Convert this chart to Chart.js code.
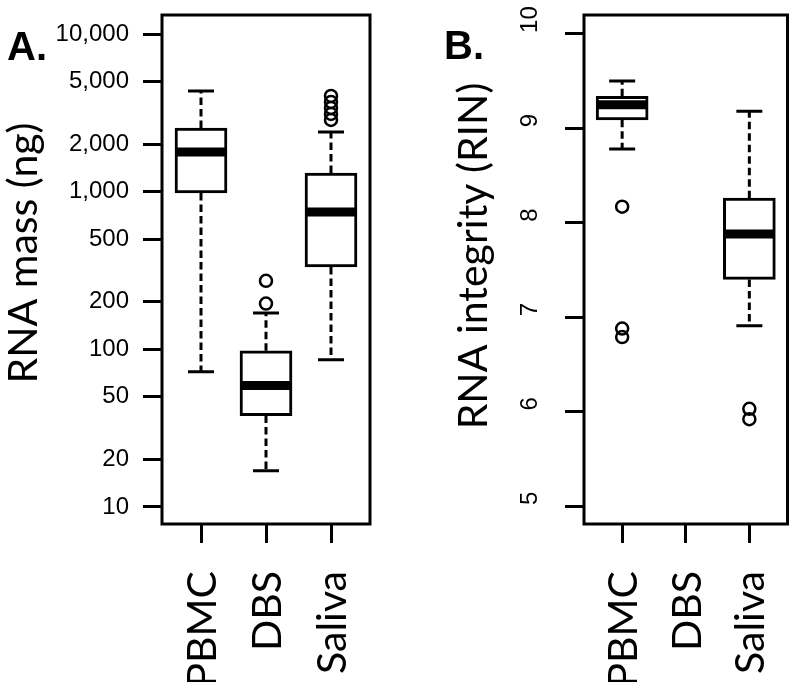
<!DOCTYPE html>
<html>
<head>
<meta charset="utf-8">
<script src="https://cdn.jsdelivr.net/npm/chart.js@4.4.1/dist/chart.umd.min.js"></script>
<style>
  body { margin: 0; background: #fff; }
  #wrap { position: relative; width: 796px; height: 682px; }
  #wrap canvas { position: absolute; top: 0; }
</style>
</head>
<body>
<div id="wrap">
  <canvas id="chartA" width="398" height="682" style="left:0"></canvas>
  <canvas id="chartB" width="398" height="682" style="left:398px"></canvas>
</div>
<script>
// categorias y valores
const categories = ['PBMC', 'DBS', 'Saliva'];

// Panel A: RNA mass (ng), escala log
const massTicks = [10, 20, 50, 100, 200, 500, 1000, 2000, 5000, 10000];
const massLow = [72, 17, 86];
const massQ1 = [981, 38, 333];
const massMed = [1786, 59, 743];
const massQ3 = [2535, 98, 1314];
const massHigh = [4350, 170, 2390];
const massOutliers = [[], [195, 272], [2850, 3110, 3400, 3710, 4050]];

// Panel B: RNA integrity (RIN)
const rinTicks = [5, 6, 7, 8, 9, 10];
const rinLow = [8.78, null, 6.91];
const rinQ1 = [9.09, null, 7.40];
const rinMed = [9.25, null, 7.88];
const rinQ3 = [9.34, null, 8.26];
const rinHigh = [9.50, null, 9.18];
const rinOutliers = [[8.17, 6.88, 6.79], [], [6.03, 5.92]];

const titleFont = '41px Lato, "Open Sans", sans-serif';
const tickFont = '24px "Liberation Sans", Arial, sans-serif';
const letterFont = 'bold 40px "Liberation Sans", Arial, sans-serif';

// Dibuja bigotes, medianas, marco y textos
const boxPlugin = {
  id: 'boxExtras',
  afterDatasetsDraw(chart) {
    const st = chart.options.plugins.boxExtras;
    const xs = chart.scales.x, ys = chart.scales.y;
    const ctx = chart.ctx;
    ctx.save();
    ctx.strokeStyle = '#000';
    categories.forEach((c, i) => {
      if (st.q1[i] == null) return;
      const x = xs.getPixelForValue(i + 1);
      const yLo = ys.getPixelForValue(st.low[i]);
      const yHi = ys.getPixelForValue(st.high[i]);
      const yQ1 = ys.getPixelForValue(st.q1[i]);
      const yQ3 = ys.getPixelForValue(st.q3[i]);
      const yMed = ys.getPixelForValue(st.med[i]);
      // bigotes punteados
      ctx.lineWidth = 3;
      ctx.setLineDash([7.5, 4]);
      ctx.beginPath();
      ctx.moveTo(x, yQ3); ctx.lineTo(x, yHi);
      ctx.moveTo(x, yQ1); ctx.lineTo(x, yLo);
      ctx.stroke();
      ctx.setLineDash([]);
      // topes
      ctx.lineWidth = 3;
      ctx.beginPath();
      ctx.moveTo(x - 13, yHi); ctx.lineTo(x + 13, yHi);
      ctx.moveTo(x - 13, yLo); ctx.lineTo(x + 13, yLo);
      ctx.stroke();
      // mediana
      ctx.lineWidth = 9;
      ctx.beginPath();
      ctx.moveTo(x - 25, yMed); ctx.lineTo(x + 25, yMed);
      ctx.stroke();
    });
    ctx.restore();
  },
  afterDraw(chart) {
    const st = chart.options.plugins.boxExtras;
    const xs = chart.scales.x, ys = chart.scales.y;
    const ctx = chart.ctx;
    const a = chart.chartArea;
    ctx.save();
    ctx.strokeStyle = '#000';
    ctx.fillStyle = '#000';
    ctx.lineWidth = 3;
    ctx.strokeRect(a.left, a.top, a.right - a.left, a.bottom - a.top);

    // letra del panel
    ctx.font = letterFont;
    ctx.textAlign = 'left';
    ctx.textBaseline = 'alphabetic';
    ctx.fillText(st.letter, st.letterX, st.letterY);

    // titulo del eje y
    ctx.font = titleFont;
    ctx.save();
    ctx.translate(st.titleX, st.titleY);
    ctx.rotate(-Math.PI / 2);
    ctx.textAlign = 'center';
    ctx.fillText(st.title, 0, 0);
    ctx.restore();

    // etiquetas del eje x (giradas)
    categories.forEach((c, i) => {
      const x = xs.getPixelForValue(i + 1);
      ctx.save();
      ctx.translate(x + 15, 571);
      ctx.rotate(-Math.PI / 2);
      ctx.textAlign = 'right';
      ctx.fillText(c, 0, 0);
      ctx.restore();
    });

    // etiquetas y giradas (solo panel B)
    if (st.rotatedY) {
      ctx.font = tickFont;
      st.yTicks.forEach(v => {
        const y = ys.getPixelForValue(v);
        ctx.save();
        ctx.translate(139, y - 1);
        ctx.rotate(-Math.PI / 2);
        ctx.textAlign = 'left';
        ctx.fillText(String(v), 0, 0);
        ctx.restore();
      });
    }
    ctx.restore();
  }
};

function makeChart(id, cfg) {
  const boxes = [];
  const points = [];
  categories.forEach((c, i) => {
    if (cfg.q1[i] != null) boxes.push({ x: i + 1, y: [cfg.q1[i], cfg.q3[i]] });
    cfg.outliers[i].forEach(v => points.push({ x: i + 1, y: v }));
  });

  const gridOpts = (len) => ({
    offset: false,
    drawOnChartArea: false, drawTicks: true, tickLength: len,
    tickWidth: 3, lineWidth: 3, tickColor: '#000', color: '#000'
  });

  return new Chart(document.getElementById(id), {
    type: 'bar',
    data: {
      datasets: [
        {
          type: 'bar', data: boxes, barThickness: 52,
          backgroundColor: '#fff', borderColor: '#000', borderWidth: 3, borderSkipped: false
        },
        {
          type: 'scatter', data: points, pointStyle: 'circle', pointRadius: 6,
          borderWidth: 2.5, borderColor: '#000', backgroundColor: 'rgba(0,0,0,0)'
        }
      ]
    },
    options: {
      responsive: false,
      animation: false,
      layout: { padding: { left: 0, right: cfg.padRight, top: 15, bottom: 0 } },
      plugins: {
        legend: { display: false },
        tooltip: { enabled: false },
        boxExtras: cfg
      },
      scales: {
        x: {
          type: 'linear', min: 0.4, max: 3.6, bounds: 'data', offset: false,
          afterBuildTicks: s => { s.ticks = categories.map((c, i) => ({ value: i + 1 })); },
          afterFit: s => { s.height = 158; s.paddingLeft = 0; s.paddingRight = 0; },
          grid: gridOpts(19),
          border: { display: false },
          ticks: { display: false }
        },
        y: {
          type: cfg.logScale ? 'logarithmic' : 'linear',
          min: cfg.yMin, max: cfg.yMax, bounds: 'data',
          afterBuildTicks: s => { s.ticks = cfg.yTicks.map(v => ({ value: v })); },
          afterFit: s => { s.width = cfg.axisWidth; s.paddingTop = 0; s.paddingBottom = 0; },
          grid: gridOpts(19),
          border: { display: false },
          ticks: {
            display: !cfg.rotatedY,
            color: '#000',
            padding: 14,
            font: { family: '"Liberation Sans", Arial, sans-serif', size: 24 },
            callback: v => Number(v).toLocaleString('en-US')
          }
        }
      }
    },
    plugins: [boxPlugin]
  });
}

function drawAll() {
  makeChart('chartA', {
    low: massLow, q1: massQ1, med: massMed, q3: massQ3, high: massHigh, outliers: massOutliers,
    logScale: true, yMin: 7.8, yMax: 13200, yTicks: massTicks,
    axisWidth: 162, padRight: 28, rotatedY: false,
    letter: 'A.', letterX: 7, letterY: 60,
    title: 'RNA mass (ng)', titleX: 37, titleY: 253
  });
  makeChart('chartB', {
    low: rinLow, q1: rinQ1, med: rinMed, q3: rinQ3, high: rinHigh, outliers: rinOutliers,
    logScale: false, yMin: 4.81, yMax: 10.2, yTicks: rinTicks,
    axisWidth: 186, padRight: 3, rotatedY: true,
    letter: 'B.', letterX: 46, letterY: 59,
    title: 'RNA integrity (RIN)', titleX: 89, titleY: 256
  });
}

Promise.all([
  document.fonts.load(titleFont),
  document.fonts.load(tickFont),
  document.fonts.load(letterFont)
]).then(drawAll, drawAll);
</script>
</body>
</html>
